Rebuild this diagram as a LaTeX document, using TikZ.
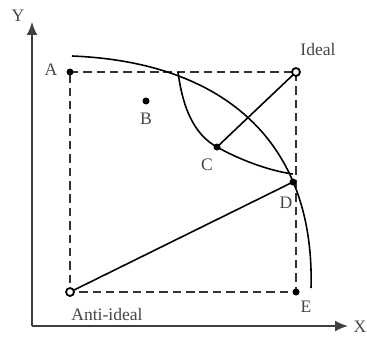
\documentclass[tikz,border=0pt]{standalone}
\usepackage{fontspec}
\setmainfont{Liberation Serif}
\usetikzlibrary{arrows.meta}
\definecolor{lblgray}{RGB}{70,70,70}
\newcommand{\drawaxis}{\draw[line width=1.1pt, black!75, -{Latex[length=2.6mm,width=2.2mm]}]}
\newcommand{\drawbound}{\draw[line width=0.9pt, black!80, dash pattern=on 4.8pt off 2.8pt]}
\tikzset{lbl/.style={text=lblgray, font=\fontsize{10}{12}\selectfont, inner sep=1pt}}

\begin{document}
\begin{tikzpicture}[x=0.02cm, y=-0.02cm]
        \useasboundingbox (0,0) rectangle (367,341);

        % Draw axes
        \coordinate (o) at (32,326);
        \coordinate (yend) at (32,22);
        \coordinate (xend) at (348,326);
        \drawaxis (o) -- (yend);
        \drawaxis (o) -- (xend);

        % Draw bullets
        \coordinate (A) at (70,72);
        \coordinate (ideal) at (296,72);
        \coordinate (anti) at (70,292);
        \coordinate (E) at (296,292);
        \coordinate (B) at (146,101);
        \coordinate (C) at (217,147);
        \coordinate (D) at (293,182);
        \coordinate (cross) at (178,72);
        \coordinate (lensend) at (293,174);
        \coordinate (arcstart) at (72,56);
        \coordinate (arcend) at (311,288);

        % Draw dashed box
        \drawbound (A) -- (ideal) -- (E) -- (anti) -- cycle;

        % Draw frontier and lens
        \draw[line width=0.9pt] (arcstart) .. controls (222,62) and (315,140) .. (arcend);
        \draw[line width=0.9pt] (cross) .. controls (183,110) and (195,135) .. (C)
            .. controls (240,160) and (270,171) .. (lensend);

        % Draw distances
        \draw[line width=0.9pt] (ideal) -- (C);
        \draw[line width=0.9pt] (anti) -- (D);

        \fill (A) circle (3.5);
        \fill (B) circle (3.5);
        \fill (C) circle (3.5);
        \fill (D) circle (3.5);
        \fill (E) circle (3.5);
        \draw[line width=1pt, fill=white] (ideal) circle (4);
        \draw[line width=1pt, fill=white] (anti) circle (4);

        \node[lbl] (ylab) at (18,16) {Y};
        \node[lbl] (xlab) at (360,327) {X};
        \node[lbl] (Alab) at (51,70) {A};
        \node[lbl] (Blab) at (146,119) {B};
        \node[lbl] (Clab) at (207,165) {C};
        \node[lbl] (Dlab) at (286,203) {D};
        \node[lbl] (Elab) at (306,307) {E};
        \node[lbl] (ideallab) at (318,49) {Ideal};
        \node[lbl] (antilab) at (107,314) {Anti-ideal};
    \end{tikzpicture}
\end{document}
